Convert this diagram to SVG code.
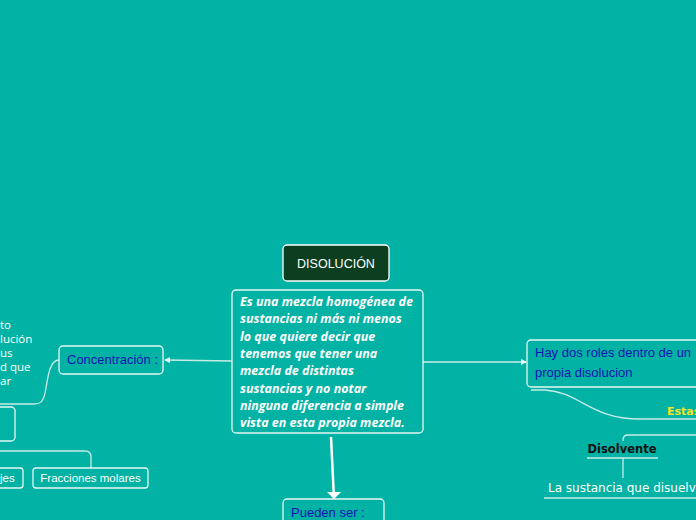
<svg xmlns="http://www.w3.org/2000/svg" width="696" height="520" viewBox="0 0 696 520">
<style>
.node{fill:#02b2a4;stroke:#e6f7f5;stroke-width:1.3}
.hand{font-family:"Liberation Sans",Arial,sans-serif;fill:#1414b0;font-size:13px}
.main{font-family:"Open Sans","Liberation Sans",sans-serif;font-weight:bold;font-style:italic;fill:#ffffff;font-size:12.5px}
.plain{font-family:"Open Sans","Liberation Sans",sans-serif;fill:#ffffff;font-size:11.5px}
.small{font-family:"Liberation Sans",Arial,sans-serif;fill:#ffffff;font-size:11.5px}
.conn{fill:none;stroke:#c9ece8;stroke-width:1.3}
</style>
<defs>
<marker id="ah" markerWidth="6" markerHeight="6" refX="5" refY="3" orient="auto" markerUnits="userSpaceOnUse">
<path d="M0,0 L6,3 L0,6 Z" fill="#e6f7f5"/>
</marker>
<marker id="big" markerWidth="14" markerHeight="10" refX="7" refY="9" orient="0" markerUnits="userSpaceOnUse">
<path d="M0,2 L14,2 L7,9 Z" fill="#ffffff"/>
</marker>
</defs>
<rect x="0" y="0" width="696" height="520" fill="#02b2a4"/>

<g id="connectors">
<path class="conn" d="M232,361 L165,360" marker-end="url(#ah)"/>
<path class="conn" d="M423,362 L526,362" marker-end="url(#ah)"/>
<path d="M331,437 L334,499" stroke="#ffffff" stroke-width="2.5" fill="none" marker-end="url(#big)"/>
<path class="conn" d="M59,360 C50,360 48,376 46,388 C44,400 42,404 34,404 L0,404"/>
<path class="conn" d="M0,451 L85,451 Q91,451 91,457 L91,468"/>
<path class="conn" d="M531,390 L545,390 C580,392 590,419 640,419 L696,419"/>
<path class="conn" d="M696,435 L628,435 Q623,435 623,440 L623,441"/>
<path class="conn" d="M587,458 L658,458"/>
<path class="conn" d="M623,458 L623,478"/>
<path class="conn" d="M544,498 L696,498"/>
</g>

<g id="title">
<rect x="283" y="245" width="106" height="36" rx="4" fill="#0b3f20" stroke="#ffffff" stroke-width="1.3"/>
<text x="336" y="268" text-anchor="middle" font-family="Liberation Sans,Arial,sans-serif" font-size="12.5" fill="#ffffff">DISOLUCIÓN</text>
</g>

<g id="main">
<rect x="232" y="290" width="191" height="143" rx="4" class="node"/>
<text class="main">
<tspan x="240" y="306">Es una mezcla homogénea de</tspan>
<tspan x="240" y="323.3">sustancias ni más ni menos</tspan>
<tspan x="240" y="340.6">lo que quiere decir que</tspan>
<tspan x="240" y="357.9">tenemos que tener una</tspan>
<tspan x="240" y="375.2">mezcla de distintas</tspan>
<tspan x="240" y="392.5">sustancias y no notar</tspan>
<tspan x="240" y="409.8">ninguna diferencia a simple</tspan>
<tspan x="240" y="427.1">vista en esta propia mezcla.</tspan>
</text>
</g>

<g id="concentracion">
<rect x="59" y="346" width="104" height="28" rx="4" class="node"/>
<text x="67" y="364" class="hand">Concentración :</text>
</g>

<g id="left-text">
<text x="0" y="329" class="plain">to</text>
<text x="0" y="343" class="plain">lución</text>
<text x="0" y="357" class="plain">us</text>
<text x="0" y="371" class="plain">d que</text>
<text x="0" y="385" class="plain">ar</text>
</g>

<g id="left-box">
<rect x="-20" y="407" width="35" height="34" rx="4" class="node"/>
</g>

<g id="porcentajes">
<rect x="-40" y="468" width="63" height="20" rx="3" class="node"/>
<text x="0" y="482" class="small">jes</text>
</g>

<g id="fracciones">
<rect x="33" y="468" width="115" height="20" rx="3" class="node"/>
<text x="90.5" y="482" text-anchor="middle" class="small">Fracciones molares</text>
</g>

<g id="roles">
<rect x="527" y="340" width="200" height="47" rx="4" class="node"/>
<text class="hand">
<tspan x="535" y="357">Hay dos roles dentro de un</tspan>
<tspan x="535" y="377">propia disolucion</tspan>
</text>
</g>

<g id="estas">
<text x="667" y="415" font-family="DejaVu Sans,sans-serif" font-weight="bold" font-size="11" fill="#f5e61a">Estas</text>
</g>

<g id="disolvente">
<text x="622" y="453" text-anchor="middle" font-family="DejaVu Sans,sans-serif" font-weight="bold" font-size="11.5" fill="#111111">Disolvente</text>
</g>

<g id="sustancia">
<text x="548" y="492" font-family="DejaVu Sans,sans-serif" font-size="12" fill="#ffffff">La sustancia que disuelve</text>
</g>

<g id="pueden">
<rect x="283" y="499" width="101" height="30" rx="4" class="node"/>
<text x="291" y="517" class="hand">Pueden ser :</text>
</g>
</svg>
